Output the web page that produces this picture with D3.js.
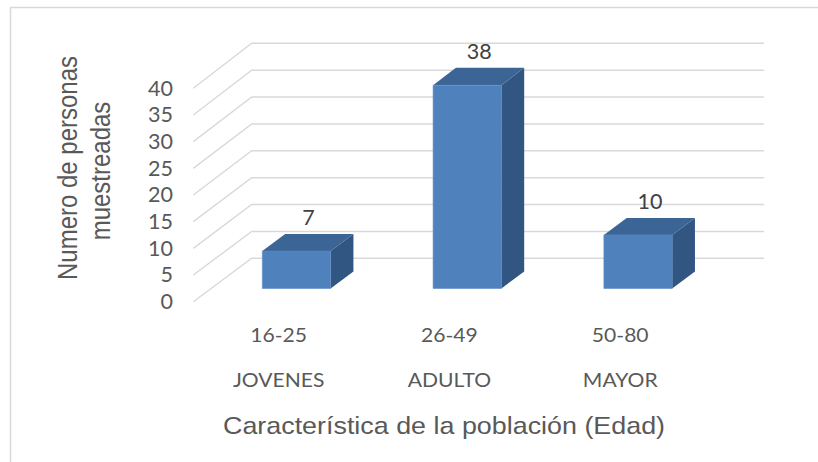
<!DOCTYPE html>
<html>
<head>
<meta charset="utf-8">
<script src="https://cdn.jsdelivr.net/npm/d3@7"></script>
<style>
  html, body { margin: 0; padding: 0; background: #fff; }
  svg { display: block; }
</style>
</head>
<body>
<svg id="chart" width="818" height="462"></svg>
<script>
// ---- data ----
const ranges = ["16-25", "26-49", "50-80"];
const groups = ["JOVENES", "ADULTO", "MAYOR"];
const values = [7, 38, 10];
const yTicks = [0, 5, 10, 15, 20, 25, 30, 35, 40];
const yTitleLines = ["Numero de personas", "muestreadas"];
const xTitle = "Característica de la población (Edad)";

// ---- layout ----
const svg = d3.select("#chart");
const textGray = "#595959";
const gridColor = "#d9d9d9";
const calib = "Lato, 'Open Sans', sans-serif";
const arial = "'Liberation Sans', Arial, sans-serif";
const stretch = 1.11; // horizontal stretch of the reference

// back wall geometry and depth offset (front minus back)
const depthDX = -58.4;
const xBack = d3.scaleBand().domain(ranges).range([251.7, 764]).paddingInner(0.6).paddingOuter(0.3);
const yBack = d3.scaleLinear().domain([0, 40]).range([258.3, 43.3]);
const yFront = d3.scaleLinear().domain([0, 40]).range([301.7, 88.3]);
// depth d: 0 = back wall, 1 = front edge of floor
const px = (xb, d) => xb + depthDX * d;
const py = (v, d) => yBack(v) + (yFront(v) - yBack(v)) * d;

const dFront = 0.695, dBackBar = 0.305;

// chart border
svg.append("rect")
  .attr("x", 10.5).attr("y", 7.5)
  .attr("width", 830).attr("height", 480)
  .attr("fill", "#fff").attr("stroke", "#d9d9d9").attr("stroke-width", 1.5);

// gridlines: back wall horizontals + floor diagonals
const xRight = xBack.range()[1];
const xLeftBack = xBack.range()[0];
const grid = svg.append("g");
yTicks.forEach(t => {
  grid.append("path")
    .attr("d", `M${px(xLeftBack, 1)},${py(t, 1)} L${xLeftBack},${yBack(t)} L${xRight},${yBack(t)}`)
    .attr("fill", "none").attr("stroke", gridColor).attr("stroke-width", 1.4);
});

// tick labels
svg.append("g").selectAll("text").data(yTicks).join("text")
  .attr("transform", d => `translate(173,${py(d, 1)}) scale(1.05,1)`)
  .attr("text-anchor", "end")
  .attr("dy", "0.36em")
  .attr("font-family", calib).attr("font-size", 20.5)
  .attr("fill", textGray)
  .text(d => d);

// bars
const cFront = "#4f81bd", cTop = "#3b6595", cSide = "#325682";
const barsG = svg.append("g");
ranges.forEach((r, i) => {
  const v = values[i];
  const xb0 = xBack(r), xb1 = xBack(r) + xBack.bandwidth();
  const fx0 = px(xb0, dFront), fx1 = px(xb1, dFront);
  const bx0 = px(xb0, dBackBar), bx1 = px(xb1, dBackBar);
  const fyT = py(v, dFront), fyB = py(0, dFront);
  const byT = py(v, dBackBar), byB = py(0, dBackBar);
  barsG.append("path")
    .attr("d", `M${fx1},${fyT} L${bx1},${byT} L${bx1},${byB} L${fx1},${fyB} Z`)
    .attr("fill", cSide);
  barsG.append("path")
    .attr("d", `M${fx0},${fyT} L${fx1},${fyT} L${bx1},${byT} L${bx0},${byT} Z`)
    .attr("fill", cTop);
  barsG.append("path")
    .attr("d", `M${fx0},${fyT} L${fx1},${fyT} L${fx1},${fyB} L${fx0},${fyB} Z`)
    .attr("fill", cFront).attr("stroke", "#5a8ac6").attr("stroke-width", 0.6);
  const lx = (fx0 + fx1) / 2 + 12;
  const ly = byT - 16;
  svg.append("text")
    .attr("transform", `translate(${lx},${ly}) scale(1.05,1)`)
    .attr("text-anchor", "middle").attr("dy", "0.36em")
    .attr("font-family", calib).attr("font-size", 20.5)
    .attr("fill", "#404040")
    .text(v);
});

// category labels (two rows)
ranges.forEach((r, i) => {
  const cx = px(xBack(r) + xBack.bandwidth() / 2, 1);
  svg.append("text")
    .attr("transform", `translate(${cx},335) scale(${stretch},1)`)
    .attr("text-anchor", "middle").attr("dy", "0.36em")
    .attr("font-family", calib).attr("font-size", 19)
    .attr("fill", textGray).text(r);
  svg.append("text")
    .attr("transform", `translate(${cx},380) scale(${stretch},1)`)
    .attr("text-anchor", "middle").attr("dy", "0.36em")
    .attr("font-family", calib).attr("font-size", 19)
    .attr("fill", textGray).text(groups[i]);
});

// y axis title (rotated, two lines)
yTitleLines.forEach((line, i) => {
  svg.append("text")
    .attr("transform", `translate(${67 + i * 33},${168 + i * 3}) rotate(-90) scale(1,1.12)`)
    .attr("text-anchor", "middle").attr("dy", "0.36em")
    .attr("font-family", arial).attr("font-size", 24)
    .attr("fill", textGray).text(line);
});

// x axis title
svg.append("text")
  .attr("transform", `translate(444,425) scale(1.12,1)`)
  .attr("text-anchor", "middle").attr("dy", "0.36em")
  .attr("font-family", arial).attr("font-size", 24)
  .attr("fill", textGray).text(xTitle);
</script>
</body>
</html>
